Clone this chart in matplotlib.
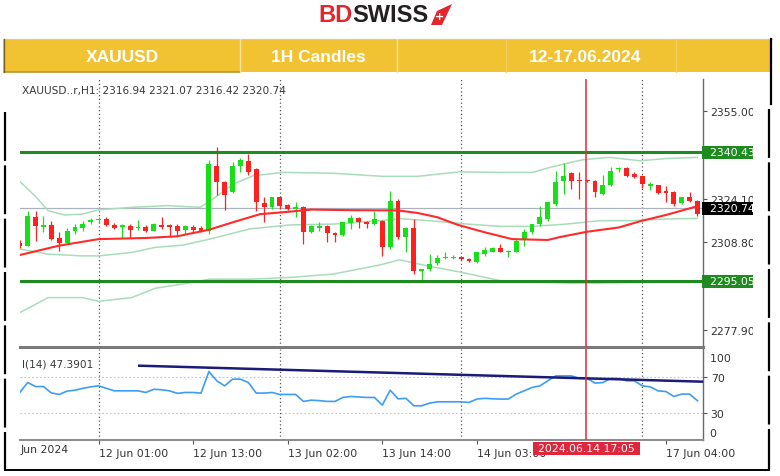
import matplotlib
matplotlib.use("Agg")
import matplotlib.pyplot as plt
from matplotlib.lines import Line2D
from matplotlib.patches import Rectangle, Polygon
import numpy as np

W, H = 780, 477

# ── data (bar 0 = 12 Jun 01:00, one bar per hour) ────────────────────────────
bars = list(range(-10, 77))
opens = [2308.4, 2307.6, 2317.8, 2314.1, 2314.8, 2310.3, 2308.7, 2312.6, 2313.7, 2315.8,
         2316.5, 2316.9, 2315.0, 2314.0, 2314.6, 2313.7, 2314.3, 2312.9, 2314.9, 2314.9,
         2314.4, 2313.2, 2314.0, 2313.7, 2312.9, 2335.7, 2329.9, 2326.5, 2335.7, 2337.5,
         2334.6, 2322.6, 2321.1, 2324.6, 2321.9, 2320.6, 2321.1, 2312.5, 2313.7, 2314.4,
         2312.0, 2311.3, 2315.6, 2317.2, 2316.0, 2315.2, 2316.4, 2307.0, 2323.4, 2310.5,
         2313.7, 2298.6, 2299.4, 2301.5, 2303.3, 2303.3, 2303.5, 2302.9, 2301.7, 2304.6,
         2305.5, 2306.6, 2305.2, 2305.5, 2309.9, 2312.3, 2315.2, 2317.0, 2322.2, 2330.5,
         2333.2, 2330.8, 2330.6, 2330.5, 2325.8, 2329.0, 2334.5, 2334.8, 2332.8, 2332.2,
         2328.7, 2328.9, 2326.7, 2326.4, 2322.6, 2324.6, 2323.4]
highs = [2309.5, 2319.9, 2319.9, 2317.9, 2316.4, 2312.3, 2313.7, 2315.2, 2316.4, 2317.2,
         2317.8, 2317.6, 2315.6, 2315.2, 2315.2, 2316.7, 2314.9, 2315.5, 2317.6, 2315.2,
         2315.2, 2314.9, 2314.9, 2314.4, 2337.9, 2342.2, 2330.5, 2337.2, 2338.3, 2339.9,
         2334.8, 2324.6, 2324.8, 2324.8, 2322.3, 2322.8, 2321.4, 2314.8, 2316.0, 2314.8,
         2312.3, 2316.0, 2318.4, 2317.6, 2316.4, 2319.9, 2316.8, 2326.9, 2324.0, 2314.0,
         2317.0, 2299.4, 2304.6, 2304.3, 2305.2, 2304.3, 2303.7, 2303.2, 2305.4, 2307.0,
         2307.3, 2308.2, 2305.9, 2309.9, 2313.5, 2315.2, 2321.7, 2323.1, 2334.0, 2336.7,
         2333.4, 2333.4, 2330.8, 2330.7, 2332.5, 2335.2, 2335.2, 2335.2, 2333.4, 2332.5,
         2329.9, 2329.0, 2328.7, 2327.0, 2324.9, 2326.4, 2323.7]
lows = [2306.8, 2307.4, 2309.3, 2312.3, 2309.7, 2305.8, 2308.5, 2311.7, 2312.9, 2315.1,
        2315.6, 2314.4, 2313.4, 2310.3, 2310.3, 2313.2, 2312.3, 2312.6, 2313.4, 2310.5,
        2311.1, 2311.7, 2312.3, 2312.3, 2311.7, 2325.4, 2320.2, 2326.0, 2333.4, 2332.5,
        2319.9, 2315.8, 2320.5, 2320.5, 2320.0, 2317.6, 2308.2, 2312.2, 2312.9, 2309.0,
        2309.0, 2311.0, 2313.5, 2313.7, 2313.7, 2314.9, 2304.1, 2306.4, 2309.9, 2305.5,
        2297.6, 2295.3, 2298.8, 2300.8, 2302.9, 2303.0, 2302.6, 2301.8, 2301.4, 2304.0,
        2305.2, 2305.2, 2303.5, 2305.2, 2307.6, 2311.7, 2314.6, 2316.4, 2321.7, 2325.8,
        2327.5, 2324.0, 2330.1, 2324.6, 2325.4, 2328.7, 2333.4, 2331.9, 2331.3, 2327.8,
        2327.3, 2325.8, 2322.8, 2321.7, 2322.3, 2322.8, 2318.1]
closes = [2307.4, 2317.9, 2314.4, 2314.8, 2309.9, 2308.4, 2312.9, 2314.0, 2315.4, 2316.6,
          2317.0, 2314.9, 2313.7, 2314.7, 2313.2, 2314.2, 2312.7, 2315.2, 2314.0, 2314.2,
          2312.8, 2314.4, 2313.2, 2312.9, 2336.3, 2329.9, 2325.4, 2335.7, 2337.9, 2333.6,
          2322.8, 2321.1, 2324.6, 2321.7, 2320.5, 2321.1, 2312.5, 2314.4, 2314.6, 2312.0,
          2311.5, 2315.8, 2317.2, 2315.8, 2315.2, 2317.0, 2307.0, 2323.4, 2310.5, 2313.7,
          2298.8, 2299.2, 2301.1, 2303.1, 2303.6, 2303.6, 2302.9, 2302.1, 2305.2, 2306.2,
          2306.6, 2305.5, 2305.8, 2309.3, 2312.5, 2315.2, 2317.6, 2322.8, 2329.9, 2332.2,
          2330.5, 2330.4, 2330.3, 2326.4, 2329.0, 2334.0, 2334.8, 2332.2, 2331.9, 2329.3,
          2329.3, 2326.2, 2326.2, 2322.2, 2324.6, 2323.4, 2318.7]

ma_bars = [-10, -5, 0, 6, 10, 14, 17, 20.5, 24, 27, 32, 38, 40.5, 43, 45.5, 49, 52.5,
           57, 58.5, 62, 66, 69, 72, 76]
ma_vals = [2304.3, 2307.6, 2309.9, 2310.3, 2310.9, 2313.2, 2315.8, 2318.7, 2319.5, 2320.3,
           2320.1, 2320.0, 2319.1, 2317.6, 2315.0, 2312.3, 2309.9, 2309.6, 2310.6, 2312.5,
           2314.0, 2316.4, 2318.4, 2321.5]

bb_up_bars = [-10, -8.1, -6.4, -4.3, -2.1, 0, 4.2, 8.7, 12.9, 14.5, 17.1, 19.6, 23.4, 29.8,
              36.1, 40.4, 45.9, 50.9, 55.1, 57.3, 61.5, 64.9, 68.7, 72.1, 76]
bb_upper = [2330.2, 2325.2, 2319.9, 2318.4, 2318.7, 2320.2, 2321.1, 2321.7, 2321.1, 2324.0,
            2329.3, 2332.2, 2333.4, 2333.1, 2332.0, 2332.0, 2333.6, 2333.4, 2333.4, 2335.2,
            2337.9, 2338.7, 2337.5, 2338.3, 2338.7]
bb_mid_bars = [-10, -6.4, -2.1, 0, 4.2, 7.2, 10.7, 14.1, 19.2, 24.3, 29.8, 35.7, 38.2, 42.4,
               46.8, 50.9, 55.1, 59.4, 63.6, 67.8, 72.1, 76]
bb_mid = [2306.4, 2304.6, 2304.0, 2304.0, 2305.2, 2307.0, 2307.8, 2309.9, 2313.5, 2314.9,
          2315.2, 2316.4, 2317.1, 2316.3, 2315.2, 2314.4, 2314.4, 2315.2, 2316.4, 2316.4,
          2317.0, 2317.2]
bb_low_bars = [-10, -6.4, -2.1, 0, 4.2, 7.2, 10.7, 14.1, 19.2, 24.3, 29.8, 35.7, 38.2, 42.4,
               45.9, 50.9, 55.1, 59.4, 63.6, 67.8, 72.1, 76]
bb_lower = [2284.0, 2289.3, 2289.3, 2288.0, 2289.3, 2292.6, 2294.1, 2295.8, 2295.8, 2296.4,
            2297.6, 2300.8, 2302.6, 2300.1, 2298.3, 2295.3, 2294.8, 2294.4, 2294.4, 2294.6,
            2294.8, 2294.9]

rsi_vals = [52.5, 63.5, 59.0, 59.0, 52.0, 50.3, 54.0, 55.0, 57.0, 58.7,
            59.8, 57.0, 54.3, 54.3, 54.3, 54.3, 52.5, 56.0, 55.5, 54.3,
            51.5, 52.5, 52.5, 51.8, 75.6, 65.3, 59.8, 67.2, 67.2, 63.5,
            51.8, 51.8, 52.5, 50.3, 50.3, 50.3, 42.6, 44.0, 43.5, 42.6,
            42.6, 47.0, 48.1, 47.5, 47.0, 47.0, 38.5, 55.0, 45.5, 46.0,
            37.8, 37.8, 40.7, 42.2, 42.2, 42.2, 42.2, 41.5, 45.2, 46.0,
            45.5, 45.2, 45.2, 50.7, 54.3, 58.0, 59.8, 65.3, 70.8, 70.8,
            70.8, 68.0, 68.0, 62.8, 63.5, 68.0, 68.0, 65.3, 65.3, 59.8,
            58.7, 54.3, 53.5, 48.1, 50.7, 50.7, 43.4]
rsi_trend_bars = [5, 76.7]
rsi_trend_vals = [82.1, 64.4]

resistance = 2340.43
support = 2295.05
last_price = 2320.74
price_ticks = [2355.00, 2324.10, 2308.80, 2277.90]
rsi_levels = [70, 30]
rsi_labels = ["100", "70", "30", "0"]
time_bars = [0, 12, 24, 36, 48, 72]
time_labels = ["12 Jun 01:00", "12 Jun 13:00", "13 Jun 02:00", "13 Jun 14:00",
               "14 Jun 03:00", "17 Jun 04:00"]
grid_bars = [0, 23, 46, 69]
cursor_bar = 61.8
cursor_label = "2024.06.14 17:05"
header = "XAUUSD..r,H1: 2316.94 2321.07 2316.42 2320.74"
rsi_header = "I(14) 47.3901"
banner_texts = ["XAUUSD", "1H Candles", "12-17.06.2024"]

# ── colours ──────────────────────────────────────────────────────────────────
GREEN = "#18e018"
RED = "#ff2020"
SR_GREEN = "#1f8a1f"
BAND = "#a9dcba"
MA_RED = "#ff2a2a"
TXT = "#333333"
YELLOW = "#f1c232"


def fx(px):
    return px / W


def fy(py):
    return 1 - py / H


def fig_line(fig, x0, y0, x1, y1, **kw):
    fig.add_artist(Line2D([fx(x0), fx(x1)], [fy(y0), fy(y1)], transform=fig.transFigure, **kw))


def fig_rect(fig, x0, y0, x1, y1, **kw):
    fig.add_artist(Rectangle((fx(x0), fy(y1)), fx(x1) - fx(x0), fy(y0) - fy(y1),
                             transform=fig.transFigure, **kw))


fig = plt.figure(figsize=(W / 100, H / 100), dpi=100, facecolor="white")
plt.rcParams["font.family"] = "DejaVu Sans"

# ── header banner + logo ─────────────────────────────────────────────────────
fig_rect(fig, 3, 40, 772, 73, facecolor=YELLOW, edgecolor="none")
fig_line(fig, 3, 40, 772, 40, color="#c8c8c8", lw=0.8)
fig_line(fig, 4, 73, 240, 73, color="#b8952a", lw=1.2)
fig_line(fig, 4, 40, 4, 73, color="#7a6420", lw=1.0)
for xs, c in [(240, "#f8e3a0"), (397, "#f8e3a0"), (506, "#f3cf62"), (676, "#f3cf62")]:
    fig_line(fig, xs, 40, xs, 73, color=c, lw=1.0)
for txt, xc in zip(banner_texts, [122, 318, 585]):
    fig.text(fx(xc), fy(57), txt, ha="center", va="center", color="white",
             fontsize=12.5, fontweight="bold", family="Liberation Sans")

fig.text(fx(318), fy(16), "BD", ha="left", va="center", color="#e3262e",
         fontsize=17, fontweight="bold", family="Liberation Sans")
fig.text(fx(352), fy(16), "SWISS", ha="left", va="center", color="#231f20",
         fontsize=17, fontweight="bold", family="Liberation Sans")
fig.add_artist(Polygon([(fx(431), fy(26)), (fx(437), fy(12)), (fx(452), fy(5)), (fx(442), fy(26))],
                       closed=True, facecolor="#e3262e", edgecolor="none", transform=fig.transFigure))
fig.text(fx(439), fy(17), "+", ha="center", va="center", color="white",
         fontsize=8, fontweight="bold")

# ── panels ───────────────────────────────────────────────────────────────────
ax = fig.add_axes([fx(20), fy(348), fx(703) - fx(20), fy(80) - fy(348)])
axr = fig.add_axes([fx(20), fy(441), fx(703) - fx(20), fy(350) - fy(441)])
xlim = (-9.975, 76.7)
for a in (ax, axr):
    a.set_xlim(*xlim)
    a.set_facecolor("white")
    a.spines["left"].set_visible(False)
    a.spines["top"].set_visible(False)
    a.spines["right"].set_color("#6a6a6a")
    a.spines["right"].set_linewidth(1.0)
    for gb in grid_bars:
        a.axvline(gb, color="#555555", lw=0.9, ls=(0, (1, 2)), zorder=1)
    a.axvline(cursor_bar, color="#e8243c", lw=1.1, zorder=8)

ax.set_ylim(2271.9, 2366.3)
ax.spines["bottom"].set_color("#7a7a7a")
ax.spines["bottom"].set_linewidth(2.2)
axr.set_ylim(0, 100.5)
axr.spines["bottom"].set_color("#8a8a8a")
axr.spines["bottom"].set_linewidth(1.4)

# price panel
ax.axhline(last_price, color="#aab2c0", lw=0.9, zorder=2)
ax.axhline(resistance, color=SR_GREEN, lw=2.2, zorder=6)
ax.axhline(support, color=SR_GREEN, lw=2.2, zorder=6)

ax.plot(bb_up_bars, bb_upper, color=BAND, lw=1.1, zorder=2)
ax.plot(bb_mid_bars, bb_mid, color=BAND, lw=1.1, zorder=2)
ax.plot(bb_low_bars, bb_lower, color=BAND, lw=1.1, zorder=2)

o = np.array(opens)
c = np.array(closes)
cols = np.where(c >= o, GREEN, RED)
ax.vlines(bars, lows, highs, colors=cols, lw=0.9, zorder=3)
body_lo = np.minimum(o, c)
body_h = np.maximum(np.abs(c - o), 0.4)
ax.bar(bars, body_h, bottom=body_lo, width=0.62, color=cols, linewidth=0, zorder=3)

ax.plot(ma_bars, ma_vals, color=MA_RED, lw=1.5, zorder=5)

ax.set_xticks([])
ax.yaxis.tick_right()
ax.set_yticks(price_ticks)
ax.set_yticklabels([f"{v:.2f}" for v in price_ticks])
ax.tick_params(axis="y", length=3, width=0.8, color="#555555", pad=2.5,
               labelsize=7.8, labelcolor=TXT)

for val, fc in [(resistance, SR_GREEN), (support, SR_GREEN), (last_price, "#000000")]:
    ax.text(1.0, val, f"  {val:.2f}", transform=ax.get_yaxis_transform(), ha="left",
            va="center", fontsize=7.8, color="white", clip_on=False, zorder=9,
            bbox=dict(boxstyle="square,pad=0.12", facecolor=fc, edgecolor="none"))

ax.text(0.003, 0.978, header, transform=ax.transAxes, ha="left", va="top",
        fontsize=7.6, color="#3a3a3a")

# RSI panel
for lv in rsi_levels:
    axr.axhline(lv, color="#c4c4c4", lw=0.8, ls=(0, (1.5, 2)), zorder=1)
axr.plot(bars, rsi_vals, color="#3d9df5", lw=1.2, zorder=4)
axr.plot(rsi_trend_bars, rsi_trend_vals, color="#1b1b78", lw=1.8, zorder=5,
         solid_capstyle="butt")
axr.text(0.003, 0.9, rsi_header, transform=axr.transAxes, ha="left", va="top",
         fontsize=7.6, color="#3a3a3a")

axr.yaxis.tick_right()
axr.set_yticks(rsi_levels)
axr.set_yticklabels(rsi_labels[1:3])
axr.tick_params(axis="y", length=3, width=0.8, color="#555555", pad=2.5,
                labelsize=7.8, labelcolor=TXT)
axr.text(1.0, 91, "  " + rsi_labels[0], transform=axr.get_yaxis_transform(), ha="left",
         va="center", fontsize=7.8, color=TXT, clip_on=False)
axr.text(1.0, 8, "  " + rsi_labels[3], transform=axr.get_yaxis_transform(), ha="left",
         va="center", fontsize=7.8, color=TXT, clip_on=False)

axr.set_xticks(time_bars)
axr.set_xticklabels(time_labels, ha="left")
axr.tick_params(axis="x", length=3, width=0.8, color="#555555", pad=2.5,
                labelsize=7.8, labelcolor=TXT)
fig.text(fx(21), fy(450), "Jun 2024", ha="left", va="center", fontsize=7.8, color=TXT)

# cursor time label
fig_rect(fig, 533, 443, 640, 456, facecolor="#e0263c", edgecolor="none", zorder=11)
fig.text(fx(586.5), fy(449.5), cursor_label, ha="center", va="center", fontsize=7.8,
         color="white", zorder=12)

# clip of the screenshot on the right + outer frame
fig_rect(fig, 753, 76, 767, 470, facecolor="white", edgecolor="none", zorder=10)
fig_line(fig, 771, 40, 771, 105, color="black", lw=1.6, zorder=12)
fig_line(fig, 769, 110, 769, 471, color="black", lw=1.6, ls=(0, (22, 2)), zorder=12)
fig_line(fig, 5, 113, 5, 471, color="black", lw=1.6, ls=(0, (22, 2)), zorder=12)
fig_line(fig, 5, 471, 769, 471, color="black", lw=1.4, zorder=12)

fig.savefig("out.png", dpi=100, facecolor="white")
